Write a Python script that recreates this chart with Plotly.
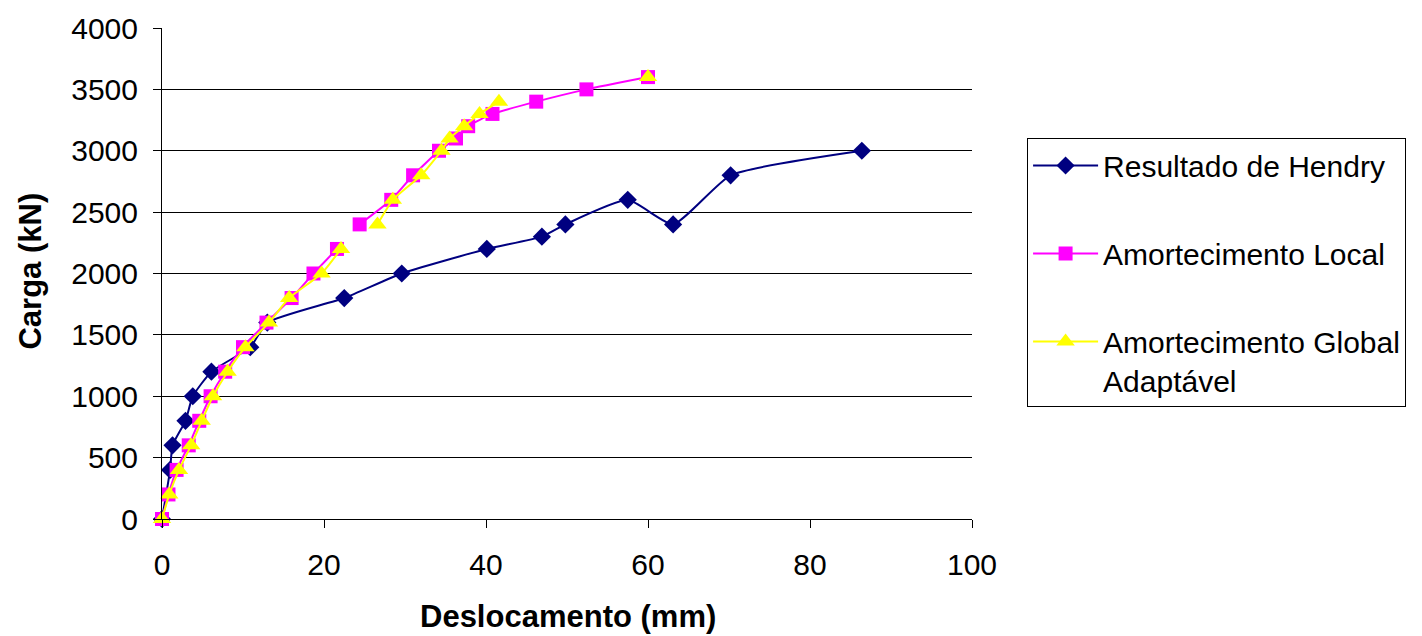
import plotly.graph_objects as go

# Data (None = gap in the series line)
hendry_x = [0, 1.0, 1.3, 2.9, 3.8, 6.1, 10.9, 13.0, 22.5, 29.6, 40.1, 46.9, 49.8, 57.5, 63.1, 70.2, 86.4]
hendry_y = [0, 400, 600, 800, 1000, 1200, 1400, 1600, 1800, 2000, 2200, 2300, 2400, 2600, 2400, 2800, 3000]

local_x = [0, 0.8, 1.8, 3.3, 4.6, 6.0, 7.8, 10.0, 12.9, 16.0, 18.7, 21.6, None, 24.4, 28.3, 31.0, 34.2, 36.3, 37.8, 40.8, 46.2, 52.4, 60.0]
local_y = [0, 200, 400, 600, 800, 1000, 1200, 1400, 1600, 1800, 2000, 2200, None, 2400, 2600, 2800, 3000, 3100, 3200, 3300, 3400, 3500, 3600]

global_x = [0, 0.9, 2.1, 3.6, 4.9, 6.3, 8.1, 10.3, 13.2, 15.7, 19.7, 22.1, None, 26.6, 28.5, 32.0, 34.5, 35.5, 37.3, 39.2, 41.6, None, 60.0]
global_y = [0, 200, 400, 600, 800, 1000, 1200, 1400, 1600, 1800, 2000, 2200, None, 2400, 2600, 2800, 3000, 3100, 3200, 3300, 3400, None, 3600]

names = ["Resultado de Hendry", "Amortecimento Local", "Amortecimento Global<br>Adaptável"]
x_ticks = [0, 20, 40, 60, 80, 100]
y_ticks = [0, 500, 1000, 1500, 2000, 2500, 3000, 3500, 4000]

FONT = "Liberation Sans, Arial, sans-serif"

fig = go.Figure()
fig.add_trace(go.Scatter(
    x=hendry_x, y=hendry_y, name=names[0], mode="lines+markers", legendgroup="a",
    line=dict(color="#000080", width=2, shape="spline", smoothing=0.5),
    marker=dict(symbol="diamond", size=14, color="#000080"), cliponaxis=False))
fig.add_trace(go.Scatter(
    x=local_x, y=local_y, name=names[1], mode="lines+markers", legendgroup="b",
    line=dict(color="#FF00FF", width=2, shape="spline", smoothing=0.5),
    marker=dict(symbol="square", size=14, color="#FF00FF"), cliponaxis=False))
fig.add_trace(go.Scatter(
    x=global_x, y=global_y, name=names[2], mode="lines+markers", legendgroup="c",
    line=dict(color="#FFFF00", width=2, shape="spline", smoothing=0.5),
    marker=dict(symbol="triangle-up", size=16, color="#FFFF00"), cliponaxis=False))

fig.update_layout(
    width=1422, height=636,
    margin=dict(l=162, r=450, t=28, b=117, autoexpand=False),
    paper_bgcolor="white", plot_bgcolor="white",
    font=dict(family=FONT, size=30, color="black"),
    showlegend=True,
    legend=dict(x=1.068, y=0.775, xanchor="left", yanchor="top",
                bordercolor="black", borderwidth=1, bgcolor="white",
                font=dict(family=FONT, size=30, color="black"),
                tracegroupgap=46, valign="top", itemwidth=65),
    xaxis=dict(range=[0, 100], tickvals=x_ticks, ticktext=[str(v) for v in x_ticks],
               showgrid=False, zeroline=False, showline=True, linecolor="black", linewidth=1,
               ticks="outside", ticklen=8, tickcolor="black", tickwidth=1,
               ticklabelstandoff=11, tickfont=dict(family=FONT, size=30, color="black")),
    yaxis=dict(range=[0, 4000], tickvals=y_ticks, ticktext=[str(v) for v in y_ticks],
               showgrid=True, gridcolor="black", gridwidth=1, zeroline=False,
               showline=True, linecolor="black", linewidth=1,
               ticks="outside", ticklen=8, tickcolor="black", tickwidth=1,
               ticklabelstandoff=9, tickfont=dict(family=FONT, size=30, color="black")),
    annotations=[
        dict(text="<b>Deslocamento (mm)</b>", xref="paper", yref="paper",
             x=0.501, y=-97 / 490.4, xanchor="center", yanchor="middle", showarrow=False,
             font=dict(family=FONT, size=31, color="black")),
        dict(text="<b>Carga (kN)</b>", xref="paper", yref="paper", textangle=-90,
             x=-131 / 810, y=0.504, xanchor="center", yanchor="middle", showarrow=False,
             font=dict(family=FONT, size=31, color="black")),
    ],
)

fig.write_html("out.html")
